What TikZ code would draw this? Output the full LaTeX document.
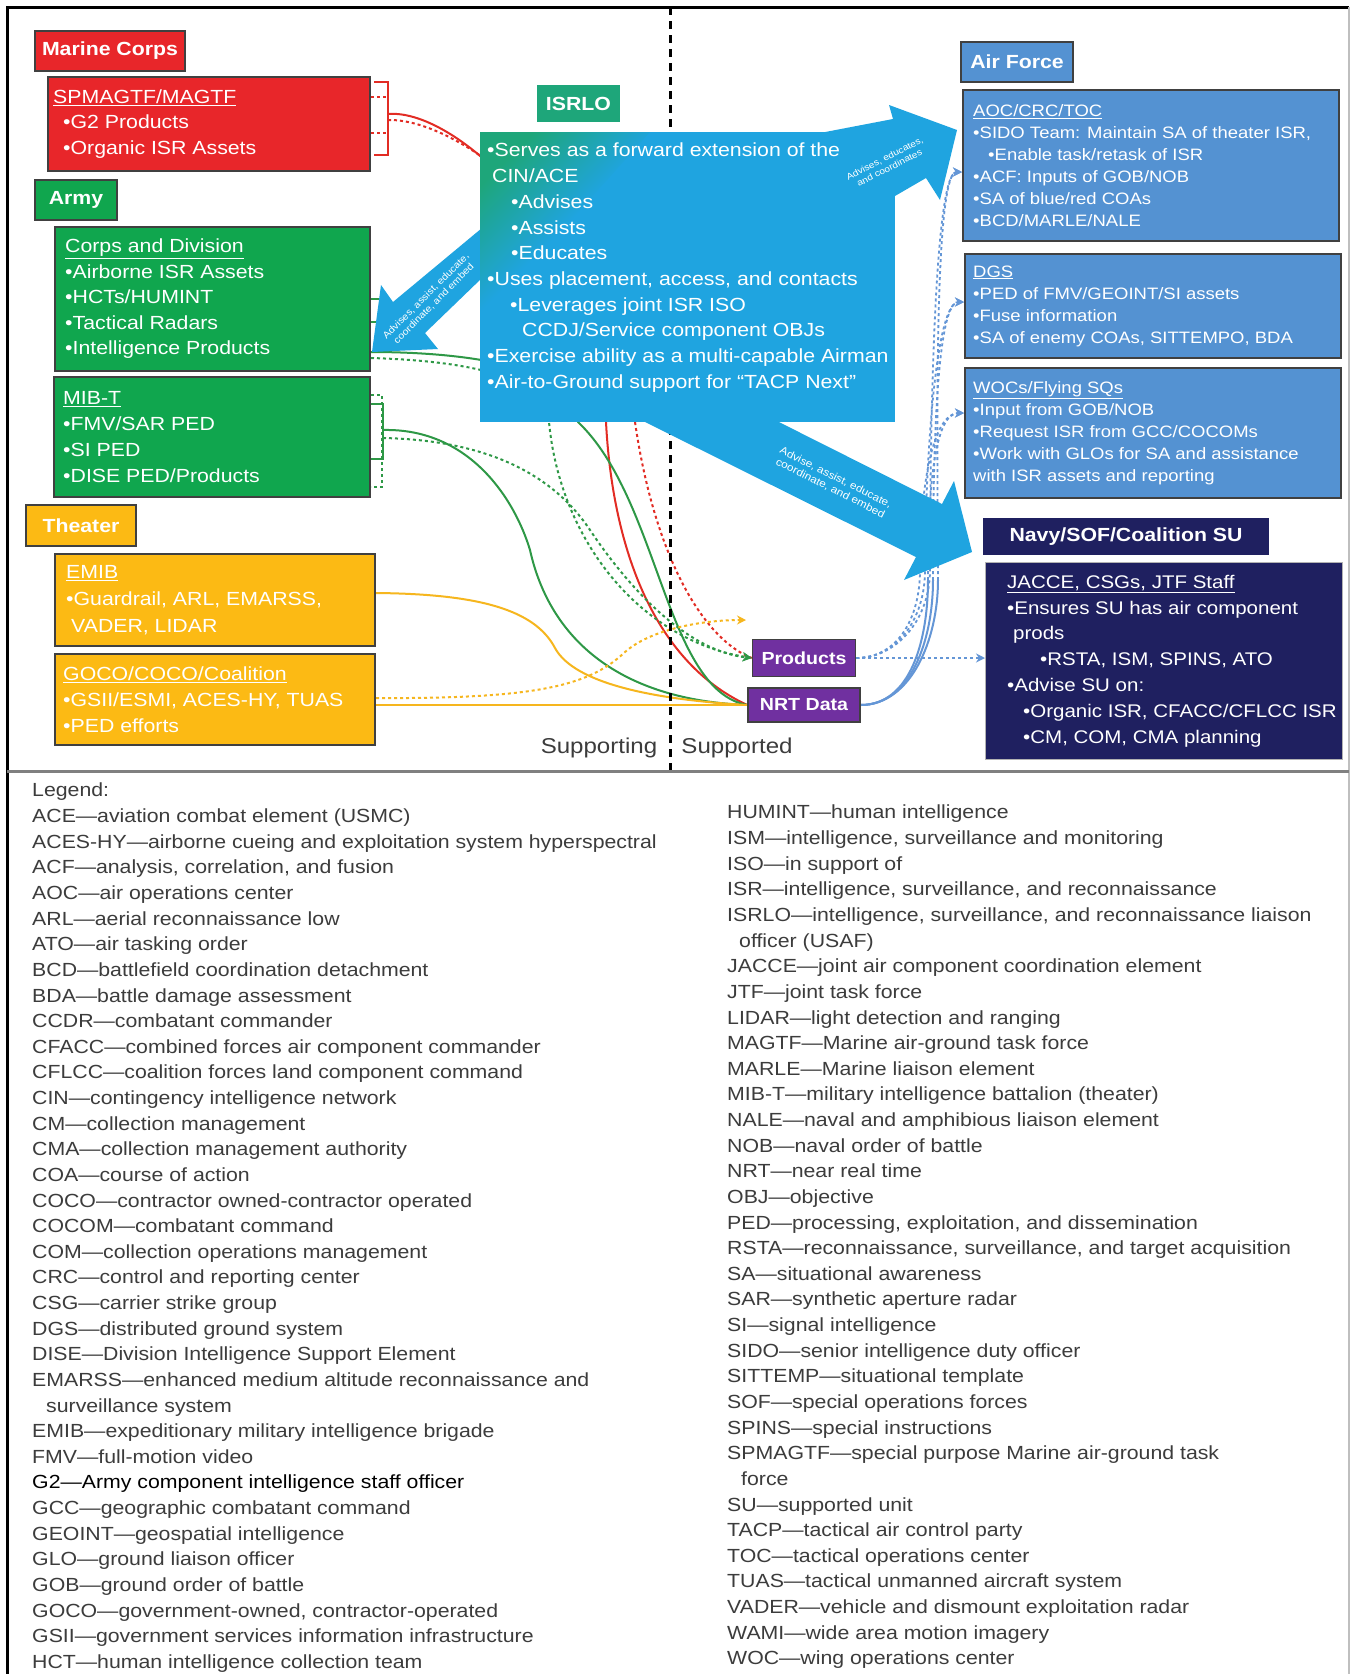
\documentclass[tikz,border=0pt]{standalone}
\usepackage{fontspec}
\setmainfont{Liberation Sans}[FakeStretch=1.12]
\usetikzlibrary{arrows.meta,positioning,calc,backgrounds}

\definecolor{mcred}{RGB}{232,38,42}
\definecolor{armygreen}{RGB}{16,166,78}
\definecolor{thgold}{RGB}{252,186,20}
\definecolor{isrblue}{RGB}{31,164,224}
\definecolor{isrteal}{RGB}{30,166,122}
\definecolor{afblue}{RGB}{84,146,210}
\definecolor{navyblue}{RGB}{31,32,96}
\definecolor{prodpurple}{RGB}{112,48,160}
\definecolor{edgegray}{RGB}{64,64,64}
\definecolor{legendgray}{RGB}{60,60,60}
\definecolor{redline}{RGB}{226,44,36}
\definecolor{greenline}{RGB}{46,152,70}
\definecolor{goldline}{RGB}{246,182,30}
\definecolor{blueline}{RGB}{100,150,214}

\begin{document}
\begin{tikzpicture}[
    x=1pt, y=-1pt,
    box/.style={draw=edgegray, line width=2pt, anchor=north west, inner sep=0pt},
    hdr/.style={draw=edgegray, line width=2pt, text=white, inner sep=0pt, font=\fontsize{19}{22}\selectfont\bfseries},
    boxtxt/.style={text=white, align=left, anchor=west, inner sep=0pt, font=\fontsize{19}{25.5}\selectfont},
    smalltxt/.style={boxtxt, font=\fontsize{16.5}{22}\selectfont},
    arrtxt/.style={text=white, align=center, inner sep=0pt, font=\fontsize{10}{11.5}\selectfont},
    tagbox/.style={draw=edgegray, line width=1.5pt, fill=prodpurple, text=white, inner sep=0pt, font=\fontsize{17.5}{20}\selectfont\bfseries},
    sidetxt/.style={text=legendgray, inner sep=0pt, font=\fontsize{21.5}{24}\selectfont},
    link/.style={line width=2pt},
    dotlink/.style={line width=2pt, dash pattern=on 3pt off 3pt},
    endtip/.style={-{Stealth[length=9pt, width=9pt]}},
    legtxt/.style={text=legendgray, align=left, anchor=north west, inner sep=0pt, font=\fontsize{19}{25.63}\selectfont}
]
    \useasboundingbox (0,0) rectangle (1352,1674);

    % frame
    \draw[line width=3pt] (7,1674) -- (7,7) -- (1349,7);
    \draw[gray!50, line width=1.5pt] (1349,7) -- (1349,1674);
    \draw[gray, line width=3pt] (7,771) -- (1349,771);

    % ISRLO arrows
    \fill[isrblue] (820,133) -- (893,119) -- (889,105) -- (957,130) -- (940,200) -- (926,178) -- (895,196) -- (880,196) -- cycle;
    \fill[isrblue] (482,228) -- (393,302) -- (381,285) -- (372,352) -- (438,349) -- (425,333) -- (482,278) -- cycle;
    \fill[isrblue] (755,410) -- (942,504) -- (954,481) -- (972,552) -- (904,580) -- (916,557) -- (621,410) -- cycle;

    % ISRLO
    \node[hdr, draw=none, fill=isrteal, minimum width=83pt, minimum height=37pt] (isrhead) at (578.5,103.5) {ISRLO};
    \node[fill=isrblue, minimum width=415pt, minimum height=290pt, anchor=north west, inner sep=0pt] (isr) at (480,132) {};
    \shade[top color=isrteal, bottom color=isrblue, middle color=isrblue, shading angle=45] (isr.north west) -- ++(170,0) -- ++(-170,190) -- cycle;
    \node[boxtxt, anchor=north west, font=\fontsize{19}{25.7}\selectfont] (isrtxt) at (487,143) {•Serves as a forward extension of the\\\hspace*{5pt}CIN/ACE\\\hspace*{24pt}•Advises\\\hspace*{24pt}•Assists\\\hspace*{24pt}•Educates\\•Uses placement, access, and contacts\\\hspace*{23pt}•Leverages joint ISR ISO\\\hspace*{35pt}CCDJ/Service component OBJs\\•Exercise ability as a multi-capable Airman\\•Air-to-Ground support for “TACP Next”};

    \node[arrtxt, rotate=27, font=\fontsize{9}{10.5}\selectfont] (afarrtxt) at (887,163) {Advises, educates,\\and coordinates};
    \node[arrtxt, rotate=45, font=\fontsize{9.5}{11}\selectfont] (armyarrtxt) at (430,300) {Advises, assist, educate,\\coordinate, and embed};
    \node[arrtxt, rotate=-26.6, font=\fontsize{10.5}{12}\selectfont] (navyarrtxt) at (833,483) {Advise, assist, educate,\\coordinate, and embed};

    % Marine Corps
    \node[hdr, fill=mcred, minimum width=150pt, minimum height=40pt] (mchead) at (110,51) {Marine Corps};
    \node[box, fill=mcred, minimum width=322pt, minimum height=94pt] (spm) at (47,76) {};
    \node[boxtxt] (spmtxt) at ([xshift=6pt]spm.west) {\underline{SPMAGTF/MAGTF}\\\hspace*{10pt}•G2 Products\\\hspace*{10pt}•Organic ISR Assets};

    % Army
    \node[hdr, fill=armygreen, minimum width=82pt, minimum height=40pt] (armyhead) at (76,200) {Army};
    \node[box, fill=armygreen, minimum width=315pt, minimum height=144pt] (cd) at (54,226) {};
    \node[boxtxt] (cdtxt) at ([xshift=11pt]cd.west) {\underline{Corps and Division}\\•Airborne ISR Assets\\•HCTs/HUMINT\\•Tactical Radars\\•Intelligence Products};
    \node[box, fill=armygreen, minimum width=316pt, minimum height=120pt] (mib) at (53,376) {};
    \node[boxtxt, font=\fontsize{19}{26}\selectfont] (mibtxt) at ([xshift=10pt]mib.west) {\underline{MIB-T}\\•FMV/SAR PED\\•SI PED\\•DISE PED/Products};

    % Theater
    \node[hdr, fill=thgold, minimum width=110pt, minimum height=41pt] (thhead) at (81,525.5) {Theater};
    \node[box, fill=thgold, minimum width=320pt, minimum height=92pt] (emib) at (54,553) {};
    \node[boxtxt, font=\fontsize{19}{27}\selectfont] (emibtxt) at ([xshift=12pt]emib.west) {\underline{EMIB}\\•Guardrail, ARL, EMARSS,\\\hspace*{5pt}VADER, LIDAR};
    \node[box, fill=thgold, minimum width=320pt, minimum height=91pt] (goco) at (54,653) {};
    \node[boxtxt, font=\fontsize{19}{26}\selectfont] (gocotxt) at ([xshift=9pt]goco.west) {\underline{GOCO/COCO/Coalition}\\•GSII/ESMI, ACES-HY, TUAS\\•PED efforts};

    % Air Force
    \node[hdr, fill=afblue, minimum width=112pt, minimum height=40pt] (afhead) at (1017,62) {Air Force};
    \node[box, fill=afblue, minimum width=376pt, minimum height=151pt] (aoc) at (962,89) {};
    \node[smalltxt] (aoctxt) at ([xshift=11pt]aoc.west) {\underline{AOC/CRC/TOC}\\•SIDO Team: Maintain SA of theater ISR,\\\hspace*{15pt}•Enable task/retask of ISR\\•ACF: Inputs of GOB/NOB\\•SA of blue/red COAs\\•BCD/MARLE/NALE};
    \node[box, fill=afblue, minimum width=376pt, minimum height=104pt] (dgs) at (964,253) {};
    \node[smalltxt] (dgstxt) at ([xshift=9pt]dgs.west) {\underline{DGS}\\•PED of FMV/GEOINT/SI assets\\•Fuse information\\•SA of enemy COAs, SITTEMPO, BDA};
    \node[box, fill=afblue, minimum width=376pt, minimum height=130pt] (woc) at (964,367) {};
    \node[smalltxt] (woctxt) at ([xshift=9pt]woc.west) {\underline{WOCs/Flying SQs}\\•Input from GOB/NOB\\•Request ISR from GCC/COCOMs\\•Work with GLOs for SA and assistance\\with ISR assets and reporting};

    % Navy/SOF/Coalition
    \node[hdr, draw=none, fill=navyblue, minimum width=286pt, minimum height=37pt] (navyhead) at (1126,536.5) {Navy/SOF/Coalition SU};
    \node[box, draw=gray!60, line width=1pt, fill=navyblue, minimum width=357pt, minimum height=197pt] (jacce) at (985,562) {};
    \node[boxtxt, font=\fontsize{18.3}{25.8}\selectfont] (jaccetxt) at ([xshift=22pt]jacce.west) {\underline{JACCE, CSGs, JTF Staff}\\•Ensures SU has air component\\\hspace*{6pt}prods\\\hspace*{33pt}•RSTA, ISM, SPINS, ATO\\•Advise SU on:\\\hspace*{16pt}•Organic ISR, CFACC/CFLCC ISR\\\hspace*{16pt}•CM, COM, CMA planning};

    % products
    \node[tagbox, minimum width=103pt, minimum height=37pt] (prod) at (804,658) {Products};
    \node[tagbox, minimum width=112pt, minimum height=34pt] (nrt) at (804,705) {NRT Data};

    \node[sidetxt] (sptg) at (599,748) {Supporting};
    \node[sidetxt] (sptd) at (737,748) {Supported};

    % links
    \begin{scope}[on background layer]
        \fill[white] (0,0) rectangle (1352,1674);

        % Marine Corps
        \coordinate (mcbrA) at (388,114);
        \coordinate (mcbrB) at (388,120);
        \draw[redline, line width=1.8pt] (374,82) -- (388,82) -- (388,155) -- (374,155);
        \draw[redline, dotlink, line width=1.5pt] (spm.east |- 0,97) -- (388,97);
        \draw[redline, dotlink, line width=1.5pt] (spm.east |- 0,133) -- (388,133);
        \draw[link, redline] (mcbrA) .. controls (460,108) and (606,250) .. (606,422) .. controls (612,540) and (650,660) .. (nrt.west);
        \draw[dotlink, redline] (mcbrB) .. controls (470,118) and (635,260) .. (635,422) .. controls (655,560) and (705,640) .. (prod.west);

        % Army
        \draw[greenline, line width=1.5pt] (cd.east |- 0,299) -- ++(11,0);
        \draw[greenline, line width=1.5pt] (cd.east |- 0,322) -- ++(11,0);
        \draw[link, greenline] (cd.east |- 0,352) .. controls (440,352) and (578,360) .. (578,422) .. controls (660,500) and (665,690) .. (nrt.west);
        \draw[dotlink, greenline, endtip] (cd.east |- 0,358) .. controls (440,360) and (549,370) .. (549,422) .. controls (560,540) and (640,640) .. (prod.west);

        \coordinate (mibbrA) at (383,430);
        \coordinate (mibbrB) at (383,438);
        \draw[greenline, line width=1.8pt] (371,404) -- (383,404) -- (383,459) -- (371,459);
        \draw[greenline, dotlink, line width=1.5pt] (mib.east |- 0,395) -- (382,395) -- (382,487) -- (mib.east |- 0,487);
        \draw[link, greenline] (mibbrA) .. controls (470,428) and (515,500) .. (530,550) .. controls (550,640) and (620,700) .. (nrt.west);
        \draw[dotlink, greenline, endtip] (mibbrB) .. controls (480,440) and (550,470) .. (590,530) .. controls (620,575) and (680,650) .. (prod.west);

        % Theater
        \coordinate (goldtip) at (746,620);
        \draw[link, goldline] (emib.east |- 0,593) .. controls (480,594) and (535,610) .. (555,648) .. controls (575,685) and (660,700) .. (nrt.west);
        \draw[link, goldline] (goco.east |- nrt.west) -- (nrt.west);
        \draw[dotlink, goldline, endtip] (goco.east |- 0,698) .. controls (540,699) and (590,685) .. (625,652) .. controls (650,630) and (700,620) .. (goldtip);

        % supported side
        \draw[dotlink, blueline, endtip] (prod.east) -- (jacce.west |- prod.east);
        \foreach \tgt/\ty/\off in {aoc/172/10, dgs/302/5, woc/413/0} {
            \draw[link, blueline] (nrt.east) .. controls +(50,0) and +(0,60) .. (928+\off,580) coordinate (nrtup\tgt);
            \draw[dotlink, blueline, line width=1.8pt, endtip] (nrtup\tgt) .. controls +(0,-90) and +(-30,0) .. (\tgt.west |- 0,\ty);
            \draw[dotlink, blueline, line width=1.8pt, endtip] (prod.east) .. controls +(40,0) and +(0,50) .. (920+\off,570) .. controls +(0,-90) and +(-30,0) .. (\tgt.west |- 0,\ty);
        }

        % supporting / supported
        \draw[line width=3pt, dash pattern=on 8pt off 6pt] (670,7) -- (670,771);
    \end{scope}

    % legend
    \node[legtxt] (legleft) at (32,783) {Legend:\\ACE—aviation combat element (USMC)\\ACES-HY—airborne cueing and exploitation system hyperspectral\\ACF—analysis, correlation, and fusion\\AOC—air operations center\\ARL—aerial reconnaissance low\\ATO—air tasking order\\BCD—battlefield coordination detachment\\BDA—battle damage assessment\\CCDR—combatant commander\\CFACC—combined forces air component commander\\CFLCC—coalition forces land component command\\CIN—contingency intelligence network\\CM—collection management\\CMA—collection management authority\\COA—course of action\\COCO—contractor owned-contractor operated\\COCOM—combatant command\\COM—collection operations management\\CRC—control and reporting center\\CSG—carrier strike group\\DGS—distributed ground system\\DISE—Division Intelligence Support Element\\EMARSS—enhanced medium altitude reconnaissance and\\\hspace*{14pt}surveillance system\\EMIB—expeditionary military intelligence brigade\\FMV—full-motion video\\{\color{black}G2—Army component intelligence staff officer}\\GCC—geographic combatant command\\GEOINT—geospatial intelligence\\GLO—ground liaison officer\\GOB—ground order of battle\\GOCO—government-owned, contractor-operated\\GSII—government services information infrastructure\\HCT—human intelligence collection team};
    \node[legtxt] (legright) at (727,805) {HUMINT—human intelligence\\ISM—intelligence, surveillance and monitoring\\ISO—in support of\\ISR—intelligence, surveillance, and reconnaissance\\ISRLO—intelligence, surveillance, and reconnaissance liaison\\\hspace*{12pt}officer (USAF)\\JACCE—joint air component coordination element\\JTF—joint task force\\LIDAR—light detection and ranging\\MAGTF—Marine air-ground task force\\MARLE—Marine liaison element\\MIB-T—military intelligence battalion (theater)\\NALE—naval and amphibious liaison element\\NOB—naval order of battle\\NRT—near real time\\OBJ—objective\\PED—processing, exploitation, and dissemination\\RSTA—reconnaissance, surveillance, and target acquisition\\SA—situational awareness\\SAR—synthetic aperture radar\\SI—signal intelligence\\SIDO—senior intelligence duty officer\\SITTEMP—situational template\\SOF—special operations forces\\SPINS—special instructions\\SPMAGTF—special purpose Marine air-ground task\\\hspace*{14pt}force\\SU—supported unit\\TACP—tactical air control party\\TOC—tactical operations center\\TUAS—tactical unmanned aircraft system\\VADER—vehicle and dismount exploitation radar\\WAMI—wide area motion imagery\\WOC—wing operations center};
\end{tikzpicture}
\end{document}
